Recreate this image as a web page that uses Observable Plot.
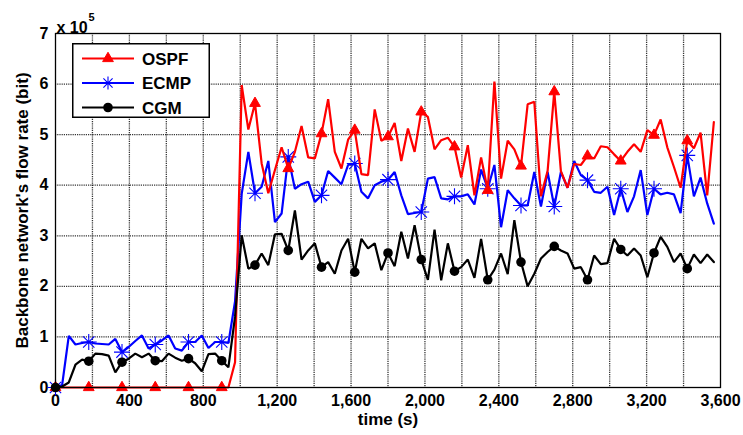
<!DOCTYPE html>
<html><head><meta charset="utf-8">
<script src="https://cdn.jsdelivr.net/npm/d3@7"></script>
<script src="https://cdn.jsdelivr.net/npm/@observablehq/plot@0.6"></script>
<style>
body{margin:0;background:#fff;}
#wrap{position:relative;width:743px;height:435px;font-family:Arial,"Liberation Sans",sans-serif;}
#legend{position:absolute;left:72px;top:43px;}
</style></head><body><div id="wrap"></div>
<script>
const time = [0,36,72,108,144,180,216,252,288,324,360,396,432,468,504,540,576,612,648,684,720,756,792,828,864,900,936,972,1008,1044,1080,1116,1152,1188,1224,1260,1296,1332,1368,1404,1440,1476,1512,1548,1584,1620,1656,1692,1728,1764,1800,1836,1872,1908,1944,1980,2016,2052,2088,2124,2160,2196,2232,2268,2304,2340,2376,2412,2448,2484,2520,2556,2592,2628,2664,2700,2736,2772,2808,2844,2880,2916,2952,2988,3024,3060,3096,3132,3168,3204,3240,3276,3312,3348,3384,3420,3456,3492,3528,3564];
const ospf = [0,0,0,0,0,0,0,0,0,0,0,0,0,0,0,0,0,0,0,0,0,0,0,0,0,0,0,0.5,
  5.98,5.10,5.62,4.43,3.84,4.30,4.75,4.33,4.66,5.17,4.55,4.53,5.02,5.70,4.66,4.33,4.90,
  5.09,4.22,4.20,5.50,4.88,4.96,5.23,4.48,5.12,4.66,5.45,5.35,4.71,4.89,4.94,4.76,4.15,4.79,
  3.80,4.55,3.90,6.05,4.13,4.88,4.71,4.38,5.60,5.65,3.78,4.28,5.85,4.28,3.95,4.42,4.40,4.58,
  4.53,4.77,4.75,4.61,4.48,4.66,4.81,4.66,5.09,4.99,5.30,4.75,4.36,3.95,4.88,4.73,5.04,3.80,5.25];
const ecmp = [0,0.05,1.02,0.85,0.88,0.90,0.87,0.86,0.85,0.96,0.70,0.80,0.92,1.03,0.77,0.85,0.93,1.03,0.77,0.73,0.90,0.90,1.03,0.78,0.90,0.90,0.88,1.7,
  3.83,4.66,3.84,3.97,4.48,3.27,3.44,4.56,3.93,4.02,4.07,3.67,3.80,4.28,4.15,4.02,4.40,
  4.43,3.87,3.74,4.00,4.07,4.11,4.26,3.80,3.43,3.45,3.47,4.13,4.16,3.74,3.72,3.78,3.78,3.82,
  3.62,4.31,3.93,4.40,3.17,3.90,3.74,3.60,3.60,4.26,3.58,4.26,3.58,4.26,3.95,4.48,4.20,4.10,
  3.87,3.85,3.97,3.41,3.93,3.47,3.78,4.30,3.41,3.93,3.82,3.85,3.82,3.45,4.59,3.78,4.15,3.64,3.24];
const cgm = [0,0.02,0.10,0.45,0.55,0.52,0.67,0.66,0.63,0.30,0.50,0.57,0.67,0.60,0.67,0.53,0.52,0.67,0.59,0.53,0.57,0.48,0.32,0.66,0.67,0.53,0.40,1.4,
  3.01,2.35,2.42,2.65,2.42,3.03,3.04,2.71,3.50,2.53,2.71,2.85,2.38,2.48,2.25,2.71,2.94,
  2.28,2.94,2.75,2.85,2.32,2.66,2.40,3.08,2.55,3.21,2.53,2.13,3.12,2.12,2.85,2.30,2.38,2.53,
  2.17,2.94,2.13,2.33,2.65,2.24,3.31,2.48,2.00,2.25,2.55,2.68,2.79,2.71,2.65,2.35,2.38,2.13,
  2.61,2.44,2.46,2.94,2.73,2.61,2.75,2.61,2.18,2.66,2.98,2.78,2.48,2.65,2.35,2.63,2.46,2.63,2.48];
const seriesNames = ["OSPF", "ECMP", "CGM"];
const seriesColors = ["#ff0000", "#0000ff", "#000000"];
const xTicks = [0,400,800,1200,1600,2000,2400,2800,3200,3600];
const xGrid = [200,400,600,800,1000,1200,1400,1600,1800,2000,2200,2400,2600,2800,3000,3200,3400];
const yTicks = [0,1,2,3,4,5,6,7];
const yGrid = [1,2,3,4,5,6];
const markerEvery = 5;

const FONT = 'Arial, "Liberation Sans", sans-serif';
const asterisk8 = {
  draw(ctx, size) {
    const r = Math.sqrt(size / Math.PI);
    const d = r * Math.SQRT1_2;
    ctx.moveTo(-r, 0); ctx.lineTo(r, 0);
    ctx.moveTo(0, -r); ctx.lineTo(0, r);
    ctx.moveTo(-d, -d); ctx.lineTo(d, d);
    ctx.moveTo(-d, d); ctx.lineTo(d, -d);
  }
};

const valuesBy = {OSPF: ospf, ECMP: ecmp, CGM: cgm};
const rows = {};
for (const s of seriesNames) rows[s] = time.map((t, i) => ({t, v: valuesBy[s][i], i}));
const marked = s => rows[s].filter(d => d.i % markerEvery === 0);

const lineMark = (s, c) => Plot.line(rows[s], {x: "t", y: "v", stroke: c, strokeWidth: 2.2, strokeLinejoin: "miter"});
const gridStyle = {stroke: "#000", strokeOpacity: 0.8, strokeWidth: 1.3, strokeDasharray: "1.2,1"};

const chart = Plot.plot({
  width: 743, height: 435,
  marginLeft: 55, marginRight: 23, marginTop: 33, marginBottom: 48,
  x: {domain: [0, 3600]},
  y: {domain: [0, 7]},
  style: {fontFamily: FONT, background: "#fff", color: "#000"},
  marks: [
    Plot.gridX(xGrid, gridStyle),
    Plot.gridY(yGrid, gridStyle),
    Plot.axisX(xTicks, {tickSize: 0, tickPadding: 7, tickFormat: d3.format(","), fontSize: 16, fontWeight: "bold", label: null}),
    Plot.axisY(yTicks, {tickSize: 0, tickPadding: 7, tickFormat: d3.format("d"), fontSize: 16, fontWeight: "bold", label: null}),
    // data: ECMP, OSPF, CGM
    lineMark("ECMP", seriesColors[1]),
    Plot.dot(marked("ECMP"), {x: "t", y: "v", symbol: asterisk8, r: 8, stroke: seriesColors[1], fill: "none", strokeWidth: 1.1}),
    lineMark("OSPF", seriesColors[0]),
    Plot.dot(marked("OSPF"), {x: "t", y: "v", symbol: "triangle", r: 4, fill: seriesColors[0], stroke: seriesColors[0], strokeWidth: 1}),
    lineMark("CGM", seriesColors[2]),
    Plot.dot(marked("CGM"), {x: "t", y: "v", symbol: "circle", r: 4.8, fill: seriesColors[2], stroke: "none"}),
    Plot.frame({stroke: "#000", strokeWidth: 1.3}),
    Plot.text(["time (s)"], {text: d => d, frameAnchor: "bottom", dy: 37, fontSize: 17, fontWeight: "bold"}),
    Plot.text(["Backbone network's flow rate (bit)"], {text: d => d, frameAnchor: "left", textAnchor: "middle", dx: -33, rotate: -90, fontSize: 17, fontWeight: "bold"}),
    Plot.text(["x 10"], {text: d => d, frameAnchor: "top-left", textAnchor: "start", dx: 1, dy: -12, fontSize: 16, fontWeight: "bold"}),
    Plot.text(["5"], {text: d => d, frameAnchor: "top-left", textAnchor: "start", dx: 33, dy: -20, fontSize: 11, fontWeight: "bold"})
  ]
});
const wrap = document.getElementById("wrap");
wrap.appendChild(chart);

// legend overlay
const lw = 138, lh = 75;
const leg = d3.select(wrap).append("svg").attr("id", "legend").attr("width", lw).attr("height", lh);
leg.append("rect").attr("x", 0.75).attr("y", 0.75).attr("width", lw - 1.5).attr("height", lh - 1.5).attr("fill", "#fff").attr("stroke", "#000").attr("stroke-width", 1.5);
const legSymbols = [d3.symbolTriangle, asterisk8, d3.symbolCircle];
const legR = [4, 6.5, 4.8];
seriesNames.forEach((name, k) => {
  const y = 15.5 + k * 24.5;
  const g = leg.append("g");
  g.append("line").attr("x1", 10).attr("x2", 62).attr("y1", y).attr("y2", y).attr("stroke", seriesColors[k]).attr("stroke-width", 2.2);
  const p = d3.symbol(legSymbols[k], Math.PI * legR[k] * legR[k])();
  const sym = g.append("path").attr("d", p).attr("transform", `translate(36,${y})`);
  if (k === 1) sym.attr("fill", "none").attr("stroke", seriesColors[k]).attr("stroke-width", 1.1);
  else sym.attr("fill", seriesColors[k]).attr("stroke", k === 0 ? seriesColors[k] : "none");
  g.append("text").attr("x", 70).attr("y", y).attr("dy", "0.36em").attr("font-size", 17).attr("font-weight", "bold").attr("font-family", FONT).text(name);
});
</script></body></html>
